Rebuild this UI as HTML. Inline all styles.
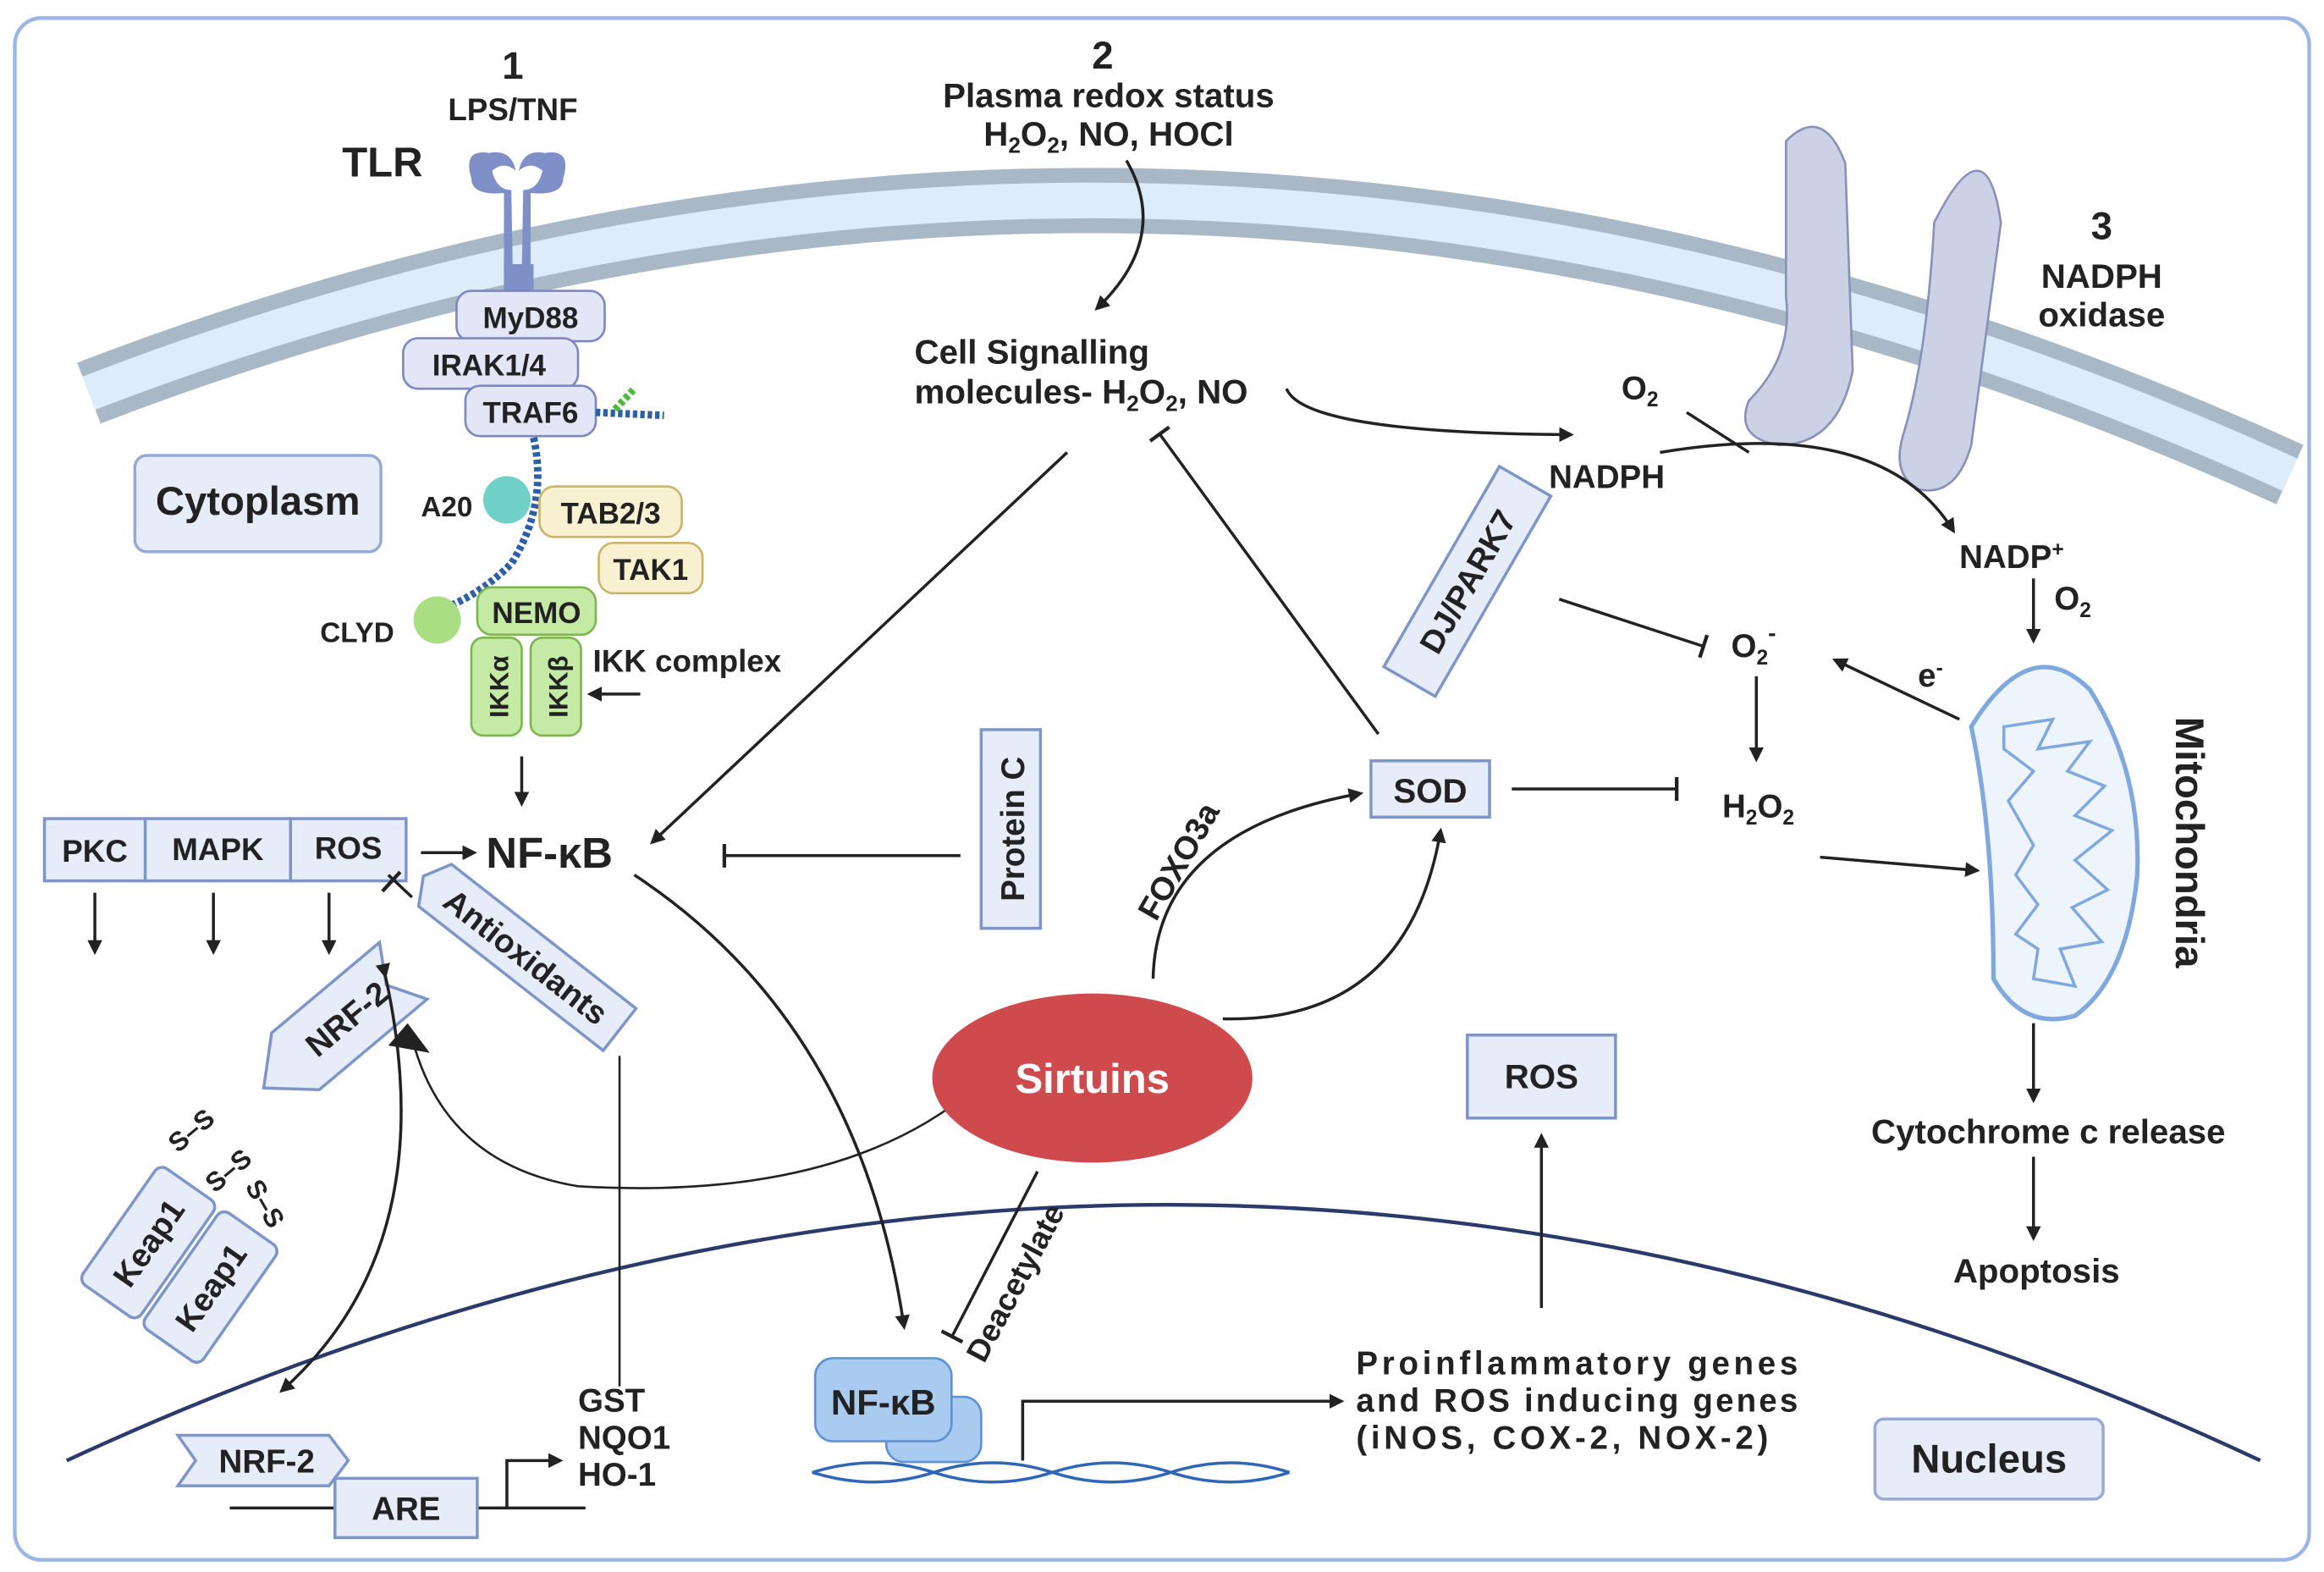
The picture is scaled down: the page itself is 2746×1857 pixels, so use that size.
<!DOCTYPE html>
<html><head><meta charset="utf-8"><style>
html,body{margin:0;padding:0;background:#fff}
svg{display:block}
text{font-family:"Liberation Sans",Arial,sans-serif;font-weight:bold;fill:#222}
</style></head><body>
<svg width="2746" height="1857" viewBox="0 0 1568 1060" xmlns="http://www.w3.org/2000/svg">
<defs>
<marker id="a" markerWidth="10" markerHeight="10" refX="8" refY="5" orient="auto" markerUnits="userSpaceOnUse"><path d="M0,0 L10,5 L0,10 z" fill="#222"/></marker>
<marker id="t" markerWidth="4" markerHeight="16" refX="2" refY="8" orient="auto" markerUnits="userSpaceOnUse"><rect x="0" y="0" width="2.5" height="16" fill="#222"/></marker>
</defs>
<rect x="10" y="12" width="1548" height="1040" rx="18" fill="#fff" stroke="#9bb6e6" stroke-width="2.5"/>
<path d="M60,265 Q800,-20 1545,320" fill="none" stroke="#a9b8c6" stroke-width="44"/>
<path d="M60,265 Q800,-20 1545,320" fill="none" stroke="#dcecfb" stroke-width="24"/>
<path d="M45,985 Q790,640 1525,985" fill="none" stroke="#2b3a6b" stroke-width="2.5"/>
<path d="M1205,95 Q1230,70 1245,110 L1250,250 Q1240,300 1200,300 Q1170,295 1180,270 Q1210,240 1205,200 z" fill="#ccd2e6" stroke="#8891b8" stroke-width="1.5"/>
<path d="M1305,150 Q1340,80 1350,150 L1330,300 Q1320,335 1295,330 Q1275,320 1285,290 Q1300,240 1305,150 z" fill="#ccd2e6" stroke="#8891b8" stroke-width="1.5"/>
<path d="M318,120 Q312,100 330,103 Q345,100 348,115 Q340,108 332,115 Q335,128 345,128 L346,185 L340,190 L340,130 Q318,132 318,120z" fill="#7f90c8"/>
<path d="M380,120 Q386,100 368,103 Q353,100 350,115 Q358,108 366,115 Q363,128 353,128 L352,185 L358,190 L358,130 Q380,132 380,120z" fill="#7f90c8"/>
<rect x="340" y="178" width="20" height="20" fill="#7f90c8"/>
<text x="346" y="53" font-size="26" text-anchor="middle">1</text>
<text x="346" y="81" font-size="21" text-anchor="middle">LPS/TNF</text>
<text x="258" y="119" font-size="28" text-anchor="middle">TLR</text>
<g font-size="20" text-anchor="middle">
<rect x="308" y="196" width="100" height="34" rx="10" fill="#e3e6f7" stroke="#7d87c0" stroke-width="1.5"/><text x="358" y="221">MyD88</text>
<rect x="272" y="228" width="118" height="34" rx="10" fill="#e3e6f7" stroke="#7d87c0" stroke-width="1.5"/><text x="330" y="253">IRAK1/4</text>
<rect x="314" y="260" width="88" height="34" rx="10" fill="#e3e6f7" stroke="#7d87c0" stroke-width="1.5"/><text x="358" y="285">TRAF6</text>
</g>
<path d="M402,278 L448,280" stroke="#2b5fa8" stroke-width="5" stroke-dasharray="3,2"/>
<path d="M415,276 L428,262" stroke="#4cbb3a" stroke-width="5" stroke-dasharray="3,2"/>
<path d="M360,295 Q370,340 345,380 Q325,400 300,410" fill="none" stroke="#2b5fa8" stroke-width="5" stroke-dasharray="3,2"/>
<circle cx="342" cy="337" r="16" fill="#6fd1c8"/>
<circle cx="295" cy="418" r="16" fill="#a9de82"/>
<text x="284" y="348" font-size="19">A20</text>
<text x="216" y="433" font-size="19">CLYD</text>
<rect x="91" y="307" width="166" height="65" rx="8" fill="#e6ecf8" stroke="#97aad6" stroke-width="2"/>
<text x="174" y="347" font-size="27" text-anchor="middle">Cytoplasm</text>
<g font-size="20" text-anchor="middle">
<rect x="364" y="328" width="96" height="34" rx="10" fill="#f7f1d2" stroke="#c9b56a" stroke-width="1.5"/><text x="412" y="353">TAB2/3</text>
<rect x="404" y="366" width="70" height="34" rx="10" fill="#f7f1d2" stroke="#c9b56a" stroke-width="1.5"/><text x="439" y="391">TAK1</text>
<rect x="322" y="396" width="80" height="32" rx="10" fill="#c5eaa6" stroke="#7db650" stroke-width="1.5"/><text x="362" y="420">NEMO</text>
<rect x="318" y="430" width="34" height="66" rx="8" fill="#c5eaa6" stroke="#7db650" stroke-width="1.5"/>
<rect x="358" y="430" width="34" height="66" rx="8" fill="#c5eaa6" stroke="#7db650" stroke-width="1.5"/>
<text transform="translate(343,463) rotate(-90)" font-size="18">IKKα</text>
<text transform="translate(383,463) rotate(-90)" font-size="18">IKKβ</text>
</g>
<text x="400" y="453" font-size="21">IKK complex</text>
<line x1="432" y1="468" x2="398" y2="468" stroke="#222" stroke-width="2" marker-end="url(#a)"/>
<line x1="352" y1="510" x2="352" y2="542" stroke="#222" stroke-width="2" marker-end="url(#a)"/>
<g font-size="21" text-anchor="middle">
<rect x="30" y="552" width="68" height="42" fill="#e6ecf8" stroke="#7d95c8" stroke-width="2"/><text x="64" y="581">PKC</text>
<rect x="98" y="552" width="98" height="42" fill="#e6ecf8" stroke="#7d95c8" stroke-width="2"/><text x="147" y="580">MAPK</text>
<rect x="196" y="552" width="78" height="42" fill="#e6ecf8" stroke="#7d95c8" stroke-width="2"/><text x="235" y="579">ROS</text>
</g>
<g stroke="#222" stroke-width="2">
<line x1="64" y1="602" x2="64" y2="642" marker-end="url(#a)"/>
<line x1="144" y1="602" x2="144" y2="642" marker-end="url(#a)"/>
<line x1="222" y1="602" x2="222" y2="642" marker-end="url(#a)"/>
<line x1="284" y1="575" x2="320" y2="575" marker-end="url(#a)"/>
</g>
<text x="328" y="585" font-size="29">NF-κB</text>
<g transform="translate(355,645) rotate(38)"><path d="M-78,-18 L80,-18 L80,18 L-78,18 L-88,0z" fill="#e6ecf8" stroke="#7d95c8" stroke-width="2"/><text x="0" y="8" font-size="22" text-anchor="middle">Antioxidants</text></g>
<line x1="418" y1="712" x2="418" y2="935" stroke="#222" stroke-width="1.5"/>
<line x1="278" y1="605" x2="262" y2="590" stroke="#222" stroke-width="2"/><line x1="258" y1="601" x2="270" y2="588" stroke="#222" stroke-width="2.5"/>
<g transform="translate(230,690) rotate(-40)"><path d="M-68,0 L-40,-25 L55,-25 L40,0 L55,25 L-40,25z" fill="#e6ecf8" stroke="#7d95c8" stroke-width="2"/><text x="5" y="8" font-size="22" text-anchor="middle">NRF-2</text></g>
<g font-size="18">
<text x="120" y="778" transform="rotate(-40 120 778)">S–S</text>
<text x="145" y="805" transform="rotate(-40 145 805)">S–S</text>
<text x="165" y="800" transform="rotate(60 165 800)">S–S</text>
</g>
<g transform="translate(100,838) rotate(-55)"><rect x="-48" y="-24" width="96" height="48" rx="6" fill="#e6ecf8" stroke="#7d95c8" stroke-width="2"/><text x="0" y="8" font-size="22" text-anchor="middle">Keap1</text></g>
<g transform="translate(142,868) rotate(-55)"><rect x="-48" y="-24" width="96" height="48" rx="6" fill="#e6ecf8" stroke="#7d95c8" stroke-width="2"/><text x="0" y="8" font-size="22" text-anchor="middle">Keap1</text></g>
<path d="M650,740 Q560,810 390,800 Q300,785 278,700" fill="none" stroke="#222" stroke-width="1.5"/>
<path d="M262,705 L275,690 L290,710 z" fill="#222"/>
<path d="M260,658 Q300,840 190,938" fill="none" stroke="#222" stroke-width="2" marker-end="url(#a)" marker-start="url(#a)"/>
<path d="M120,968 L222,968 L235,985 L222,1002 L120,1002 L132,985z" fill="#e6ecf8" stroke="#7d95c8" stroke-width="2"/>
<text x="180" y="993" font-size="22" text-anchor="middle">NRF-2</text>
<line x1="155" y1="1017" x2="395" y2="1017" stroke="#222" stroke-width="2"/>
<rect x="226" y="997" width="96" height="40" fill="#e6ecf8" stroke="#7d95c8" stroke-width="2"/>
<text x="274" y="1025" font-size="22" text-anchor="middle">ARE</text>
<path d="M342,1017 L342,985 L378,985" fill="none" stroke="#222" stroke-width="2" marker-end="url(#a)"/>
<text x="390" y="952" font-size="22">GST</text><text x="390" y="977" font-size="22">NQO1</text><text x="390" y="1002" font-size="22">HO-1</text>
<text x="744" y="46" font-size="26" text-anchor="middle">2</text>
<text x="748" y="72" font-size="23" text-anchor="middle">Plasma redox status</text>
<text x="748" y="98" font-size="23" text-anchor="middle">H<tspan font-size="15" dy="5">2</tspan><tspan dy="-5">O</tspan><tspan font-size="15" dy="5">2</tspan><tspan dy="-5">, NO, HOCl</tspan></text>
<path d="M760,108 Q790,160 740,208" fill="none" stroke="#222" stroke-width="2" marker-end="url(#a)"/>
<text x="617" y="245" font-size="23">Cell Signalling</text>
<text x="617" y="272" font-size="23">molecules- H<tspan font-size="15" dy="5">2</tspan><tspan dy="-5">O</tspan><tspan font-size="15" dy="5">2</tspan><tspan dy="-5">, NO</tspan></text>
<path d="M868,262 Q880,292 1060,293" fill="none" stroke="#222" stroke-width="2" marker-end="url(#a)"/>
<line x1="720" y1="305" x2="440" y2="568" stroke="#222" stroke-width="2" marker-end="url(#a)"/>
<line x1="930" y1="495" x2="782" y2="292" stroke="#222" stroke-width="2" marker-end="url(#t)"/>
<line x1="648" y1="577" x2="488" y2="577" stroke="#222" stroke-width="2" marker-end="url(#t)"/>
<rect x="662" y="492" width="40" height="134" fill="#e6ecf8" stroke="#7d95c8" stroke-width="2"/>
<text transform="translate(691,559) rotate(-90)" font-size="22" text-anchor="middle">Protein C</text>
<path d="M428,590 Q580,690 610,895" fill="none" stroke="#222" stroke-width="2" marker-end="url(#a)"/>
<text x="1418" y="161" font-size="26" text-anchor="middle">3</text>
<text x="1418" y="194" font-size="23" text-anchor="middle">NADPH</text>
<text x="1418" y="220" font-size="23" text-anchor="middle">oxidase</text>
<text x="1094" y="269" font-size="22">O<tspan font-size="14" dy="5">2</tspan></text>
<text x="1045" y="329" font-size="22">NADPH</text>
<line x1="1138" y1="278" x2="1180" y2="305" stroke="#222" stroke-width="2"/>
<path d="M1120,305 Q1270,280 1318,358" fill="none" stroke="#222" stroke-width="2" marker-end="url(#a)"/>
<text x="1322" y="383" font-size="22">NADP<tspan font-size="14" dy="-8">+</tspan></text>
<text x="1386" y="411" font-size="22">O<tspan font-size="14" dy="5">2</tspan></text>
<line x1="1372" y1="390" x2="1372" y2="432" stroke="#222" stroke-width="2" marker-end="url(#a)"/>
<g transform="translate(990,392) rotate(-60)"><rect x="-78" y="-20" width="156" height="40" fill="#e6ecf8" stroke="#7d95c8" stroke-width="2"/><text x="0" y="8" font-size="22" text-anchor="middle">DJ/PARK7</text></g>
<line x1="1052" y1="404" x2="1150" y2="436" stroke="#222" stroke-width="2" marker-end="url(#t)"/>
<text x="1168" y="443" font-size="22">O<tspan font-size="14" dy="5">2</tspan><tspan font-size="16" dy="-16">-</tspan></text>
<line x1="1185" y1="456" x2="1185" y2="512" stroke="#222" stroke-width="2" marker-end="url(#a)"/>
<text x="1162" y="551" font-size="22">H<tspan font-size="14" dy="5">2</tspan><tspan dy="-5">O</tspan><tspan font-size="14" dy="5">2</tspan></text>
<line x1="1322" y1="485" x2="1238" y2="445" stroke="#222" stroke-width="2" marker-end="url(#a)"/>
<text x="1294" y="463" font-size="22">e<tspan font-size="14" dy="-8">-</tspan></text>
<line x1="1228" y1="578" x2="1334" y2="587" stroke="#222" stroke-width="2" marker-end="url(#a)"/>
<path d="M1330,490 Q1370,425 1410,465 Q1445,520 1442,590 Q1435,660 1400,685 Q1365,695 1345,660 Q1345,560 1330,490z" fill="#eef4fc" stroke="#7fa8de" stroke-width="3"/>
<path d="M1352,490 L1385,485 L1375,505 L1410,500 L1395,520 L1420,530 L1400,550 L1425,560 L1400,580 L1422,600 L1398,612 L1418,635 L1390,640 L1400,665 L1372,660 L1375,640 L1360,630 L1375,610 L1360,590 L1372,570 L1355,540 L1372,520 L1352,505z" fill="none" stroke="#7fa8de" stroke-width="2"/>
<text transform="translate(1468,568) rotate(90)" font-size="27" text-anchor="middle">Mitochondria</text>
<line x1="1372" y1="690" x2="1372" y2="742" stroke="#222" stroke-width="2" marker-end="url(#a)"/>
<text x="1382" y="771" font-size="23" text-anchor="middle">Cytochrome c release</text>
<line x1="1372" y1="780" x2="1372" y2="835" stroke="#222" stroke-width="2" marker-end="url(#a)"/>
<text x="1374" y="865" font-size="23" text-anchor="middle">Apoptosis</text>
<rect x="925" y="513" width="80" height="38" fill="#e6ecf8" stroke="#7d95c8" stroke-width="2"/>
<text x="965" y="541" font-size="23" text-anchor="middle">SOD</text>
<line x1="1020" y1="532" x2="1132" y2="532" stroke="#222" stroke-width="2" marker-end="url(#t)"/>
<path d="M778,660 Q780,560 918,535" fill="none" stroke="#222" stroke-width="2" marker-end="url(#a)"/>
<text transform="translate(780,622) rotate(-60)" font-size="22">FOXO3a</text>
<path d="M825,687 Q950,690 972,560" fill="none" stroke="#222" stroke-width="2" marker-end="url(#a)"/>
<ellipse cx="737" cy="727" rx="108" ry="57" fill="#cf4a4d"/>
<text x="737" y="737" font-size="28" text-anchor="middle" style="fill:#fff">Sirtuins</text>
<line x1="700" y1="790" x2="642" y2="902" stroke="#222" stroke-width="2" marker-end="url(#t)"/>
<text transform="translate(664,920) rotate(-62)" font-size="21">Deacetylate</text>
<rect x="990" y="698" width="100" height="56" fill="#e6ecf8" stroke="#7d95c8" stroke-width="2"/>
<text x="1040" y="734" font-size="23" text-anchor="middle">ROS</text>
<line x1="1040" y1="882" x2="1040" y2="766" stroke="#222" stroke-width="2" marker-end="url(#a)"/>
<path d="M548,993 Q590,980 630,993 T710,993 T790,993 T870,993" fill="none" stroke="#2f66b8" stroke-width="2"/>
<path d="M548,993 Q590,1006 630,993 T710,993 T790,993 T870,993" fill="none" stroke="#2f66b8" stroke-width="2"/>
<rect x="598" y="942" width="64" height="44" rx="12" fill="#a9cbf0" stroke="#5f92d4" stroke-width="1.5"/>
<rect x="550" y="916" width="92" height="56" rx="12" fill="#a9cbf0" stroke="#5f92d4" stroke-width="1.5"/>
<text x="596" y="954" font-size="24" text-anchor="middle">NF-κB</text>
<path d="M690,985 L690,945 L905,945" fill="none" stroke="#222" stroke-width="2" marker-end="url(#a)"/>
<text x="915" y="927" font-size="22" textLength="298" lengthAdjust="spacing">Proinflammatory genes</text>
<text x="915" y="952" font-size="22" textLength="298" lengthAdjust="spacing">and ROS inducing genes</text>
<text x="915" y="977" font-size="22" textLength="278" lengthAdjust="spacing">(iNOS, COX-2, NOX-2)</text>
<rect x="1265" y="957" width="154" height="54" rx="6" fill="#e6ecf8" stroke="#97aad6" stroke-width="2"/>
<text x="1342" y="993" font-size="27" text-anchor="middle">Nucleus</text>
</svg>
</body></html>
